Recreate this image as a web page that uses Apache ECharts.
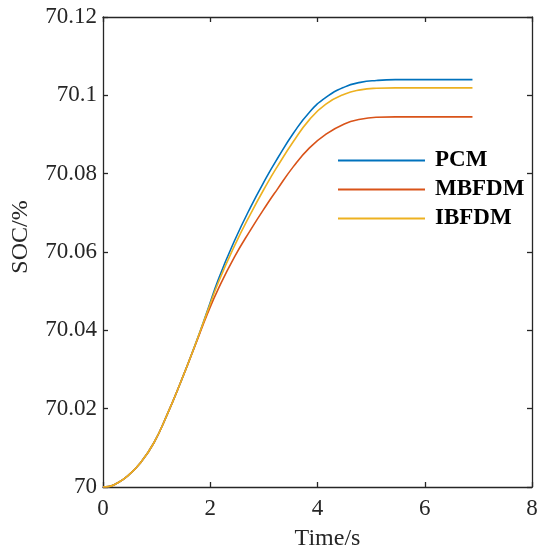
<!DOCTYPE html>
<html><head><meta charset="utf-8">
<script src="https://cdn.jsdelivr.net/npm/echarts@6/dist/echarts.min.js"></script>
<style>html,body{margin:0;padding:0;background:#fff}#c{width:538px;height:546px}</style>
</head><body><div id="c"></div>
<script>
var times = [0, 0.1, 0.25, 0.45, 0.7, 0.95, 1.2, 1.45, 1.7, 1.95, 2.15, 2.45, 2.75, 3.05, 3.25, 3.55, 3.85, 4.15, 4.5, 4.8, 5.1, 5.45, 6.0, 6.89];
var pcm   = [70, 70.0001, 70.0009, 70.0027, 70.0062, 70.0113, 70.0186, 70.0268, 70.0356, 70.0451, 70.0530, 70.0628, 70.0714, 70.0791, 70.0838, 70.0903, 70.0957, 70.0994, 70.1021, 70.1033, 70.1038, 70.1040, 70.1040, 70.1040];
var mbfdm = [70, 70.0001, 70.0009, 70.0027, 70.0062, 70.0113, 70.0186, 70.0268, 70.0355, 70.0443, 70.0506, 70.0587, 70.0656, 70.0720, 70.0760, 70.0818, 70.0866, 70.0900, 70.0927, 70.0939, 70.0944, 70.0945, 70.0945, 70.0945];
var ibfdm = [70, 70.0001, 70.0009, 70.0027, 70.0062, 70.0113, 70.0186, 70.0268, 70.0356, 70.0449, 70.0522, 70.0615, 70.0697, 70.0772, 70.0818, 70.0882, 70.0938, 70.0977, 70.1003, 70.1014, 70.1018, 70.1019, 70.1019, 70.1019];
var seriesNames = ['PCM', 'MBFDM', 'IBFDM'];
var xTicks = [0, 2, 4, 6, 8];
var yTicks = [70, 70.02, 70.04, 70.06, 70.08, 70.1, 70.12];

function pairs(v){ return times.map(function(t,i){ return [t, v[i]]; }); }
var font = 'Liberation Serif, Times New Roman, serif';
var axisCol = '#262626';
var chart = echarts.init(document.getElementById('c'));
var baseAxis = {
  axisLine:{show:true, onZero:false, lineStyle:{color:axisCol, width:1.3}},
  axisTick:{show:true, inside:true, length:5, lineStyle:{color:axisCol, width:1.3}},
  splitLine:{show:false},
  axisLabel:{color:'#262626', fontFamily:font, fontSize:23}
};
chart.setOption({
  animation:false,
  backgroundColor:'#fff',
  grid:{left:103, right:6, top:17, bottom:59, containLabel:false, outerBoundsMode:'none'},
  legend:{
    data: seriesNames,
    orient:'vertical', left:338, top:149, padding:0,
    itemWidth:87, itemHeight:14, itemGap:6,
    icon:'path://M0,6 L87,6 L87,8 L0,8 Z',
    textStyle:{fontFamily:font, fontSize:23, fontWeight:'bold', color:'#000', padding:[0,0,0,5]}
  },
  xAxis:[
    Object.assign({}, baseAxis, {type:'value', position:'bottom', min:0, max:8, interval:2,
      name:'Time/s', nameLocation:'middle', nameGap:40,
      nameTextStyle:{fontFamily:font, fontSize:24, color:'#262626', padding:[0,0,0,20]},
      axisLabel:Object.assign({}, baseAxis.axisLabel, {margin:10, formatter:function(v){return xTicks.indexOf(v)>=0?String(v):'';}})}),
    Object.assign({}, baseAxis, {type:'value', position:'top', min:0, max:8, interval:2, axisLabel:{show:false}})
  ],
  yAxis:[
    Object.assign({}, baseAxis, {type:'value', position:'left', min:70, max:70.12, interval:0.02,
      name:'SOC/%', nameLocation:'middle', nameGap:70, nameRotate:90,
      nameTextStyle:{fontFamily:font, fontSize:24, color:'#262626', padding:[0,0,0,30]},
      axisLabel:Object.assign({}, baseAxis.axisLabel, {margin:6, formatter:function(v){
        for (var i=0;i<yTicks.length;i++){ if (Math.abs(yTicks[i]-v)<1e-9) return String(yTicks[i]); } return '';
      }})}),
    Object.assign({}, baseAxis, {type:'value', position:'right', min:70, max:70.12, interval:0.02, axisLabel:{show:false}})
  ],
  series:[
    {name:seriesNames[0], type:'line', data:pairs(pcm), smooth:0.5, showSymbol:false, lineStyle:{color:'#0072BD', width:1.6}, itemStyle:{color:'#0072BD'}},
    {name:seriesNames[1], type:'line', data:pairs(mbfdm), smooth:0.5, showSymbol:false, lineStyle:{color:'#D95319', width:1.6}, itemStyle:{color:'#D95319'}},
    {name:seriesNames[2], type:'line', data:pairs(ibfdm), smooth:0.5, showSymbol:false, lineStyle:{color:'#EDB120', width:1.6}, itemStyle:{color:'#EDB120'}}
  ]
});
</script></body></html>
